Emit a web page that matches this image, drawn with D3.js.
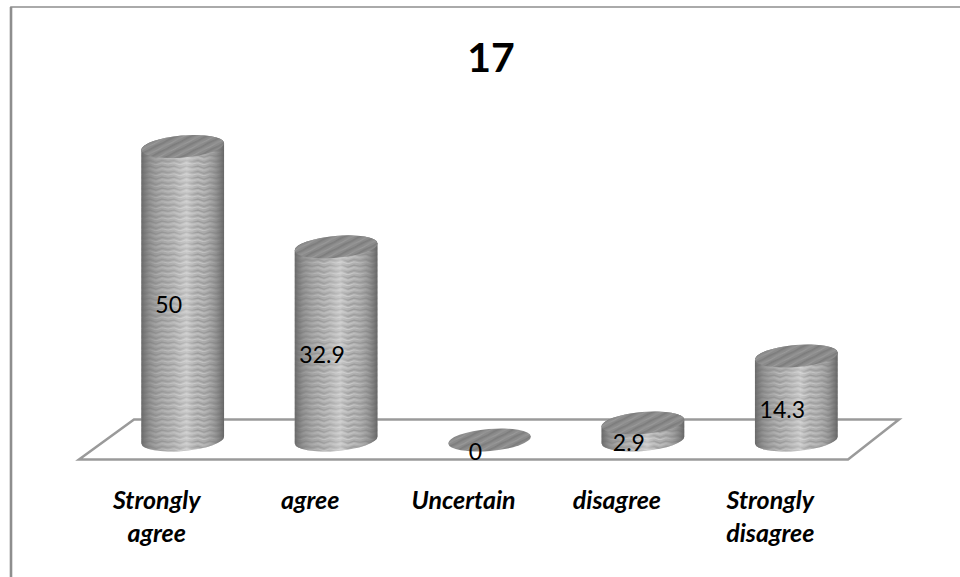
<!DOCTYPE html>
<html><head><meta charset="utf-8">
<script src="https://cdn.jsdelivr.net/npm/d3@7"></script>
<style>html,body{margin:0;padding:0;background:#fff}svg{display:block}text{font-family:Lato,"Open Sans",sans-serif}</style>
</head><body><svg id="c" width="960" height="577"></svg>
<script>
const categories = ["Strongly agree","agree","Uncertain","disagree","Strongly disagree"];
const categoryLines = [["Strongly","agree"],["agree"],["Uncertain"],["disagree"],["Strongly","disagree"]];
const values = [50,32.9,0,2.9,14.3];
const title = "17";

const svg = d3.select("#c");
const x = d3.scaleBand().domain(categories).range([106,873]);
const y = d3.scaleLinear().domain([0,50]).range([440,146.5]);
const rx = 41.5, ry = 11, tilt = -5;
const dx = rx*Math.cos(tilt*Math.PI/180), dy = -rx*Math.sin(tilt*Math.PI/180);

const defs = svg.append("defs");
const grad = defs.append("linearGradient").attr("id","body");
[[0,"#666",.95],[.1,"#7c7c7c",.65],[.3,"#a0a0a0",.3],[.55,"#e6e6e6",.5],[.68,"#c0c0c0",.15],[.88,"#828282",.55],[1,"#636363",.95]]
  .forEach(s=>grad.append("stop").attr("offset",s[0]).attr("stop-color",s[1]).attr("stop-opacity",s[2]));

const wave = defs.append("pattern").attr("id","wave").attr("patternUnits","userSpaceOnUse").attr("width",24).attr("height",5.5);
wave.append("rect").attr("width",24).attr("height",5.5).attr("fill","#aeaeae");
wave.append("path").attr("d","M0 2.2 L6 1 L12 3 L18 1 L24 2.2").attr("fill","none").attr("stroke","#929292").attr("stroke-width",1.2);
wave.append("path").attr("d","M0 4.6 L6 3.4 L12 5.4 L18 3.4 L24 4.6").attr("fill","none").attr("stroke","#cbcbcb").attr("stroke-width",1);

const lid = defs.append("pattern").attr("id","lid").attr("patternUnits","userSpaceOnUse").attr("width",16).attr("height",7).attr("patternTransform","rotate(-22)");
lid.append("rect").attr("width",16).attr("height",7).attr("fill","#8b8b8b");
lid.append("path").attr("d","M0 2 L8 1.4 L16 2").attr("stroke","#7c7c7c").attr("stroke-width",1.6).attr("fill","none");
lid.append("path").attr("d","M0 5 L8 5.6 L16 5").attr("stroke","#999").attr("stroke-width",1.2).attr("fill","none");

const soft = defs.append("filter").attr("id","soft").attr("x","-5%").attr("y","-5%").attr("width","110%").attr("height","110%");
soft.append("feGaussianBlur").attr("stdDeviation",0.6);

// chart frame
svg.append("path").attr("d","M11 577 V7 H960").attr("fill","none").attr("stroke","#8e8e8e").attr("stroke-width",1.6);
svg.append("path").attr("d","M11 577 V7").attr("fill","none").attr("stroke","#8e8e8e").attr("stroke-width",2.6);

// floor
const floorBack = y(0)-20.5, floorFront = y(0)+19.5;
svg.append("path").attr("d",`M79 ${floorFront} H848 L899 ${floorBack} H134 Z`)
  .attr("fill","none").attr("stroke","#9a9a9a").attr("stroke-width",2.5);

// title
svg.append("text").attr("x",491).attr("y",72).attr("text-anchor","middle")
  .attr("font-size",41).attr("font-weight",700).attr("fill","#000").text(title);

// cylinders
const cx = d=>x(d)+x.bandwidth()/2;
const g = svg.append("g").selectAll("g").data(categories).join("g").attr("filter","url(#soft)");
const bodyPath = (c,top,bot)=>`M${c-dx} ${top+dy} A${rx} ${ry} ${tilt} 0 1 ${c+dx} ${top-dy} L${c+dx} ${bot-dy} A${rx} ${ry} ${tilt} 0 1 ${c-dx} ${bot+dy} Z`;
g.each(function(d,i){
  const c = cx(d), top = y(values[i]), bot = y(0), s = d3.select(this);
  if(values[i]>0){
    s.append("path").attr("d",bodyPath(c,top,bot)).attr("fill","url(#wave)");
    s.append("path").attr("d",bodyPath(c,top,bot)).attr("fill","url(#body)");
  }
  s.append("ellipse").attr("rx",rx).attr("ry",ry)
    .attr("transform",`translate(${c},${top}) rotate(${tilt})`).attr("fill","url(#lid)");
});

// value labels
svg.append("g").selectAll("text").data(categories).join("text")
  .attr("x",d=>cx(d)-14)
  .attr("y",(d,i)=>y(values[i]/2)+11)
  .attr("text-anchor","middle").attr("dominant-baseline","central")
  .attr("font-size",23).attr("fill","#000")
  .text((d,i)=>values[i]);

// category axis
const axis = svg.append("g").attr("transform","translate(-26,485)").call(d3.axisBottom(x).tickSize(0));
axis.select(".domain").remove();
axis.selectAll(".tick text").each(function(d,i){
  const t = d3.select(this).text(null).attr("y",0).attr("dy",null)
    .attr("fill","#000").attr("dominant-baseline","central")
    .style("font-family","Lato").style("font-size","25px").style("font-weight",700).style("font-style","italic");
  categoryLines[i].forEach((l,j)=>t.append("tspan").attr("x",0).attr("y",14+j*33).text(l));
});
</script></body></html>
